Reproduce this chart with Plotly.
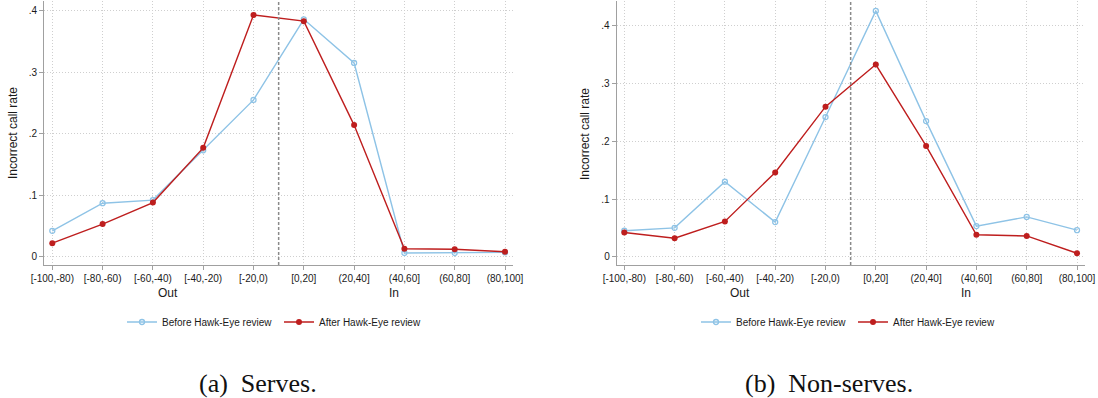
import plotly.graph_objects as go

categories = ["[-100,-80)", "[-80,-60)", "[-60,-40)", "[-40,-20)", "[-20,0)",
              "[0,20]", "(20,40]", "(40,60]", "(60,80]", "(80,100]"]

serves_before = [0.042, 0.087, 0.092, 0.173, 0.255, 0.386, 0.315, 0.006, 0.006, 0.007]
serves_after = [0.022, 0.053, 0.088, 0.177, 0.393, 0.383, 0.214, 0.013, 0.012, 0.008]

nonserves_before = [0.045, 0.050, 0.130, 0.060, 0.242, 0.426, 0.235, 0.053, 0.069, 0.046]
nonserves_after = [0.042, 0.032, 0.061, 0.146, 0.260, 0.333, 0.192, 0.038, 0.036, 0.006]

y_ticks = [0, 0.1, 0.2, 0.3, 0.4]
y_tick_text = ["0", ".1", ".2", ".3", ".4"]

BLUE = "#8EC3E6"
RED = "#BE1E1E"
AXIS = "#a0a0a0"
GRID = "#cfcfcf"
FONT = "Liberation Sans"

W, H = 1098, 398
TOP = 1

fig = go.Figure()

panels = [
    dict(xa="x", ya="y", leg="legend", before=serves_before, after=serves_after),
    dict(xa="x2", ya="y2", leg="legend2", before=nonserves_before, after=nonserves_after),
]
for p in panels:
    fig.add_trace(go.Scatter(
        x=categories, y=p["before"], mode="lines+markers", name="Before Hawk-Eye review",
        xaxis=p["xa"], yaxis=p["ya"], legend=p["leg"],
        line=dict(color=BLUE, width=1.4),
        marker=dict(symbol="circle-open", size=5, color=BLUE, line=dict(width=1.3, color=BLUE)),
    ))
    fig.add_trace(go.Scatter(
        x=categories, y=p["after"], mode="lines+markers", name="After Hawk-Eye review",
        xaxis=p["xa"], yaxis=p["ya"], legend=p["leg"],
        line=dict(color=RED, width=1.4),
        marker=dict(symbol="circle", size=6, color=RED),
    ))

def px_x(v):
    return v / W

def px_y(v):
    return 1 - v / H

xcommon = dict(
    type="category", showline=True, linecolor=AXIS, linewidth=1,
    ticks="outside", ticklen=4, tickcolor=AXIS, tickwidth=1,
    showgrid=True, gridcolor=GRID, griddash="1px,2px", gridwidth=1,
    zeroline=False, tickfont=dict(family=FONT, size=10, color="#1a1a1a"),
    automargin=False,
)
ycommon = dict(
    showline=True, linecolor=AXIS, linewidth=1,
    ticks="outside", ticklen=4, tickcolor=AXIS, tickwidth=1,
    showgrid=True, gridcolor=GRID, griddash="1px,2px", gridwidth=1,
    zeroline=False, tickfont=dict(family=FONT, size=10, color="#1a1a1a"),
    tickvals=y_ticks, ticktext=y_tick_text, automargin=False,
)

ydom = [px_y(265), px_y(TOP)]

fig.update_layout(
    width=W, height=H, autosize=False,
    margin=dict(l=0, r=0, t=0, b=0, pad=0),
    paper_bgcolor="white", plot_bgcolor="white",
    hovermode=False,
    font=dict(family=FONT, color="#1a1a1a"),
    xaxis=dict(xcommon, domain=[px_x(44), px_x(513)], range=[-0.165, 9.159], anchor="y"),
    yaxis=dict(ycommon, domain=ydom, range=[-(265 - 256.7) / 615, (256.7 - TOP) / 615], anchor="x"),
    xaxis2=dict(xcommon, domain=[px_x(616.7), px_x(1085)], range=[-0.151, 9.159], anchor="y2"),
    yaxis2=dict(ycommon, domain=ydom, range=[-(265 - 256.7) / 577, (256.7 - TOP) / 577], anchor="x2"),
    legend=dict(orientation="h", x=px_x(122), y=px_y(322), xanchor="left", yanchor="middle",
                bgcolor="rgba(0,0,0,0)", borderwidth=0, entrywidth=112,
                font=dict(family=FONT, size=10, color="#1a1a1a")),
    legend2=dict(orientation="h", x=px_x(696), y=px_y(322), xanchor="left", yanchor="middle",
                 bgcolor="rgba(0,0,0,0)", borderwidth=0, entrywidth=112,
                 font=dict(family=FONT, size=10, color="#1a1a1a")),
    showlegend=True,
)

# Vertical dashed separators between Out and In
for xa, yd in [("x", "y domain"), ("x2", "y2 domain")]:
    fig.add_shape(type="line", xref=xa, yref=yd, x0=4.5, x1=4.5, y0=0, y1=1,
                  line=dict(color="#8a8a8a", width=1.5, dash="3px,2px"))

annotations = [
    dict(text="Incorrect call rate", x=px_x(13), y=px_y(133), textangle=-90),
    dict(text="Incorrect call rate", x=px_x(585), y=px_y(134), textangle=-90),
    dict(text="Out", x=px_x(168), y=px_y(293)),
    dict(text="In", x=px_x(394), y=px_y(293)),
    dict(text="Out", x=px_x(740), y=px_y(293)),
    dict(text="In", x=px_x(966), y=px_y(293)),
]
for a in annotations:
    fig.add_annotation(xref="paper", yref="paper", showarrow=False,
                       xanchor="center", yanchor="middle",
                       font=dict(family=FONT, size=12, color="#1a1a1a"), **a)

for text, xc in [("(a)\u00a0 Serves.", 258), ("(b)\u00a0 Non-serves.", 829)]:
    fig.add_annotation(xref="paper", yref="paper", showarrow=False, text=text,
                       x=px_x(xc), y=px_y(383), xanchor="center", yanchor="middle",
                       font=dict(family="Liberation Serif", size=26, color="#111"))

fig.write_html(
    "out.html",
    config={"displayModeBar": False, "staticPlot": True},
    post_script="document.body.style.margin='0';document.body.style.overflow='hidden';",
)
